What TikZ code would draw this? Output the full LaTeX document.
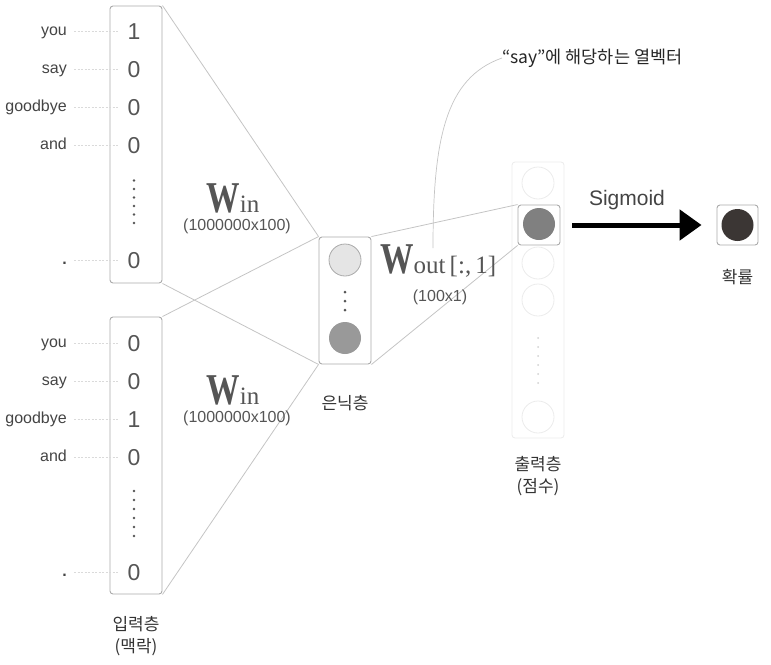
\documentclass[tikz,border=0pt]{standalone}
\usepackage{fontspec}
\setmainfont{Liberation Sans}
\newfontfamily\kr{Noto Sans CJK KR}
\newfontfamily\wfont{Liberation Serif}
\usetikzlibrary{arrows.meta}
\definecolor{labc}{HTML}{444444}
\definecolor{digc}{HTML}{555555}
\definecolor{boxc}{HTML}{AAAAAA}
\definecolor{linec}{HTML}{C4C4C4}
\definecolor{faint}{HTML}{EBEBEB}
\definecolor{leadc}{HTML}{DADADA}
\definecolor{midgray}{HTML}{999999}
\definecolor{selgray}{HTML}{808080}
\definecolor{darkc}{HTML}{3B3634}
\newcommand{\wlbl}[1]{\wfont\fontsize{44}{44}\selectfont\bfseries\scalebox{0.76}[1]{W}\fontsize{25}{25}\selectfont\mdseries #1}
\begin{document}
\begin{tikzpicture}[x=1pt,y=-1pt,
  vecbox/.style={draw=boxc, line width=0.9pt, rounded corners=3pt, minimum width=52pt, inner sep=0pt},
  wlab/.style={anchor=east, inner sep=0pt, text=labc, font=\fontsize{16}{16}\selectfont, text height=8.5pt, text depth=0pt},
  digit/.style={inner sep=0pt, text=digc, font=\fontsize{23}{23}\selectfont, text height=16pt, text depth=0pt},
  leader/.style={draw=leadc, dash pattern=on 2pt off 1.5pt, line width=0.5pt, shorten <=7pt, shorten >=8pt},
  conn/.style={draw=linec, line width=0.8pt},
  kor/.style={text=black!80, font=\kr\fontsize{17}{22}\selectfont, align=center},
  small/.style={text=digc, font=\fontsize{16}{16}\selectfont},
  neuron/.style={circle, minimum size=32pt, inner sep=0pt},
  wlabel/.style={text=digc, inner sep=0pt}
]
\useasboundingbox (0,0) rectangle (771,664);

% input boxes
\node[vecbox, minimum height=277pt] (in1) at (136,144.5) {};
\node[vecbox, minimum height=277pt] (in2) at (136,455.5) {};

\foreach \y/\w/\d/\n in {31/you/1/a1, 69/say/0/a2, 107/goodbye/0/a3, 145/and/0/a4, 260/\textbf{.}/0/a5,
                          343/you/0/b1, 381/say/0/b2, 419/goodbye/1/b3, 457/and/0/b4, 572/\textbf{.}/0/b5}{
  \node[wlab] (l\n) at (67,\y) {\w};
  \node[digit] (d\n) at (134,\y) {\d};
  \draw[leader] (l\n.east) -- (d\n.west);
}
\foreach \y in {180.5,189,197.5,206,214.5,223}{\fill[digc] (134,\y) circle (1.3pt);}
\foreach \y in {491,500,509,518,527,536}{\fill[digc] (134,\y) circle (1.3pt);}

% hidden layer
\node[vecbox, minimum height=127pt] (hid) at (345,300.5) {};
\node[neuron, draw=boxc, fill=black!10, line width=0.8pt] (h1) at (345,260) {};
\node[neuron, fill=midgray] (h2) at (345,338) {};
\foreach \y in {292,301,310}{\fill[digc] (345,\y) circle (1.5pt);}

% output column (faint)
\node[draw=faint, line width=0.8pt, rounded corners=3pt, minimum width=52pt, minimum height=276pt] (ocol) at (538,300) {};
\foreach \y/\n in {183/o1, 263/o3, 300/o4, 417/o6}{
  \node[neuron, draw=faint, line width=0.8pt] (\n) at (538,\y) {};
}
\foreach \y in {338,347,356,365,374,383}{\fill[black!18] (538,\y) circle (1pt);}

% selected output
\node[draw=boxc, fill=white, line width=0.9pt, rounded corners=3pt, minimum width=42pt, minimum height=40pt] (osel) at (539,225) {};
\node[neuron, fill=selgray] (o2) at (539,224) {};

% probability
\node[draw=boxc, fill=white, line width=0.9pt, rounded corners=3pt, minimum width=41pt, minimum height=40pt] (prob) at (737.5,225) {};
\node[neuron, fill=darkc] (p1) at (737.5,225) {};

% connectors
\draw[conn] (in1.north east) -- (hid.north west);
\draw[conn] (in1.south east) -- (hid.south west);
\draw[conn] (in2.north east) -- (hid.north west);
\draw[conn] (in2.south east) -- (hid.south west);
\draw[conn] (hid.north east) -- (osel.north west);
\draw[conn] (hid.south east) -- (osel.south west);

% sigmoid arrow
\draw[line width=5pt, -{Triangle[length=22pt,width=30pt]}, shorten <=12pt, shorten >=15pt] (osel.east) -- (prob.west);
\node[text=labc, font=\fontsize{21}{21}\selectfont] (sig) at (627,200) {Sigmoid};

% W labels
\node[wlabel, anchor=base] (win1) at (233,212) {\wlbl{in}};
\node[small] (win1d) at (237,226) {(1000000x100)};
\node[wlabel, anchor=base] (win2) at (233,404) {\wlbl{in}};
\node[small] (win2d) at (237,418) {(1000000x100)};
\node[wlabel, anchor=base west] (wout) at (380,273) {\wlbl{out\,[:,\,1]}};
\node[small] (woutd) at (440,297) {(100x1)};

% callout
\node[anchor=west, inner sep=0pt, text=black!85, font=\kr\fontsize{17.5}{17.5}\selectfont] (call) at (502,58) {“say”에 해당하는 열벡터};
\coordinate (cend) at (433,248);
\draw[draw=linec, line width=0.7pt] (call.west) .. controls (445,78) and (433,140) .. (cend);

% layer names
\node[kor] (tin) at (136,636) {입력층\\(맥락)};
\node[kor] (thid) at (345,403) {은닉층};
\node[kor] (tout) at (538,476) {출력층\\(점수)};
\node[kor] (tprob) at (737.5,277) {확률};
\end{tikzpicture}
\end{document}
